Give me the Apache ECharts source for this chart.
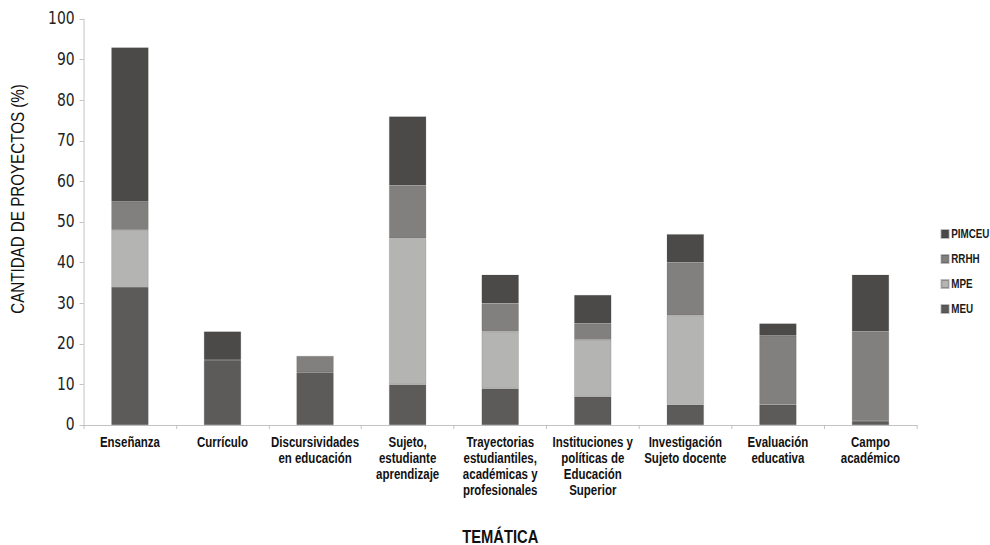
<!DOCTYPE html>
<html>
<head>
<meta charset="utf-8">
<script src="https://cdn.jsdelivr.net/npm/echarts@6/dist/echarts.min.js"></script>
<style>
  html, body { margin: 0; padding: 0; background: #fff; overflow: hidden; }
  #wrap { width: 990px; height: 545px; overflow: hidden; }
  /* el original usa una tipografía condensada: se comprime todo en x */
  #chart { width: 1208px; height: 545px; transform: scaleX(0.82); transform-origin: 0 0; }
</style>
</head>
<body>
<div id="wrap"><div id="chart"></div></div>
<script>
// temáticas (eje x)
var categorias = [
  'Enseñanza',
  'Currículo',
  'Discursividades\nen educación',
  'Sujeto,\nestudiante\naprendizaje',
  'Trayectorias\nestudiantiles,\nacadémicas y\nprofesionales',
  'Instituciones y\npolíticas de\nEducación\nSuperior',
  'Investigación\nSujeto docente',
  'Evaluación\neducativa',
  'Campo\nacadémico'
];
// porcentaje de proyectos por programa
var meu    = [34, 16, 13, 10, 9, 7, 5, 5, 1];
var mpe    = [14, 0, 0, 36, 14, 14, 22, 0, 0];
var rrhh   = [7, 0, 4, 13, 7, 4, 13, 17, 22];
var pimceu = [38, 7, 0, 17, 7, 7, 7, 3, 14];
var yTicks = [0, 10, 20, 30, 40, 50, 60, 70, 80, 90, 100];

var fuente = "'Liberation Sans', Arial, sans-serif";
var escala = 0.82;
var mychart = echarts.init(document.getElementById('chart'), null, { renderer: 'svg' });

function serie(nombre, datos, color) {
  return {
    name: nombre,
    type: 'bar',
    stack: 'total',
    barWidth: '40%',
    data: datos.map(function (v) { return v === 0 ? null : v; }),
    itemStyle: { color: color, borderColor: 'rgba(60,60,60,0.35)', borderWidth: 0.5 }
  };
}

var option = {
  animation: false,
  // título del eje y: se compensa la compresión horizontal del contenedor
  graphic: [{
    type: 'text',
    x: 22,
    y: 199,
    rotation: Math.PI / 2,
    scaleX: escala,
    scaleY: 1 / escala,
    style: {
      text: 'CANTIDAD DE PROYECTOS (%)',
      fill: '#111',
      font: "18.5px 'Liberation Sans', Arial, sans-serif",
      align: 'center',
      verticalAlign: 'middle'
    }
  }],
  legend: {
    orient: 'vertical',
    left: 1142,
    top: 223,
    itemWidth: 9,
    itemHeight: 8,
    itemGap: 13,
    icon: 'rect',
    data: ['PIMCEU', 'RRHH', 'MPE', 'MEU'],
    textStyle: { color: '#1a1a1a', fontSize: 12, fontWeight: 'bold', fontFamily: fuente, padding: [0, 0, 0, -2] }
  },
  grid: { left: 102, right: 90, top: 19, bottom: 120, outerBoundsMode: 'none' },
  xAxis: {
    type: 'category',
    data: categorias,
    name: 'TEMÁTICA',
    nameLocation: 'middle',
    nameGap: 102,
    nameTextStyle: { color: '#111', fontSize: 18, fontWeight: 'bold', fontFamily: fuente },
    axisLine: { lineStyle: { color: '#bdbdbd' } },
    axisTick: { show: true, length: 4, lineStyle: { color: '#bdbdbd' } },
    axisLabel: {
      interval: 0,
      color: '#111',
      fontSize: 14,
      fontWeight: 'bold',
      fontFamily: fuente,
      lineHeight: 16,
      margin: 9
    }
  },
  yAxis: {
    type: 'value',
    min: yTicks[0],
    max: yTicks[yTicks.length - 1],
    interval: 10,
    splitLine: { show: false },
    axisLine: { show: true, lineStyle: { color: '#bdbdbd' } },
    axisTick: { show: true, length: 5, lineStyle: { color: '#bdbdbd' } },
    axisLabel: { color: '#222', fontSize: 17, fontFamily: "'DejaVu Sans', sans-serif", margin: 11 }
  },
  series: [
    serie('MEU', meu, '#5c5b5a'),
    serie('MPE', mpe, '#b4b4b3'),
    serie('RRHH', rrhh, '#82807e'),
    serie('PIMCEU', pimceu, '#4b4a48')
  ]
};
mychart.setOption(option, true);
</script>
</body>
</html>
